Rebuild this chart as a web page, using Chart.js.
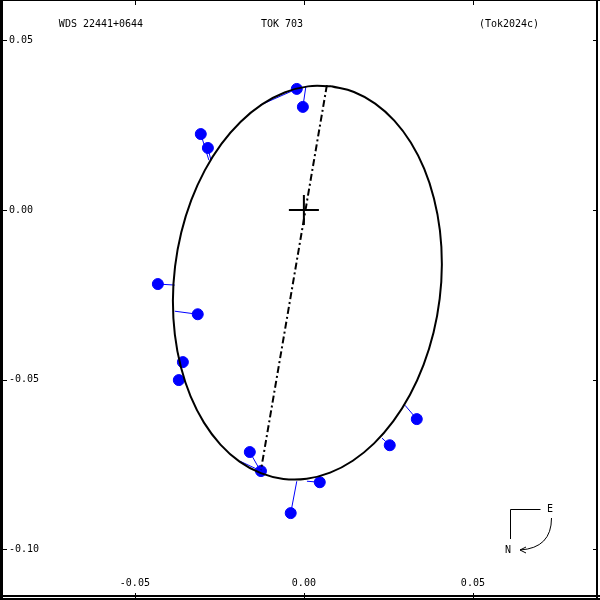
<!DOCTYPE html>
<html><head><meta charset="utf-8">
<script src="https://cdn.jsdelivr.net/npm/chart.js@4/dist/chart.umd.min.js"></script>
<style>html,body{margin:0;padding:0;background:#fff}#wrap{width:600px;height:600px}</style>
</head><body><div id="wrap"><canvas id="c" width="600" height="600"></canvas></div>
<script>
const titleTexts = ['WDS 22441+0644', 'TOK 703', '(Tok2024c)'];
const compassLabels = ['E', 'N'];
const xTickValues = [-0.05, 0, 0.05];
const xTickLabels = ['-0.05', '0.00', '0.05'];
const yTickValues = [0.05, 0, -0.05, -0.10];
const yTickLabels = ['0.05', '0.00', '-0.05', '-0.10'];
const xRange = [-0.0899, 0.0876];
const yRange = [-0.1149, 0.0619];

// apparent orbit
const orbitX = [0.00813,0.01482,0.02109,0.02675,0.03163,0.03558,0.03848,0.04025,0.04082,0.04018,0.03836,0.03540,0.03139,0.02646,0.02077,0.01447,0.00776,0.00085,-0.00606,-0.01274,-0.01902,-0.02468,-0.02956,-0.03351,-0.03641,-0.03817,-0.03875,-0.03811,-0.03628,-0.03332,-0.02932,-0.02439,-0.01869,-0.01240,-0.00569,0.00122];
const orbitY = [0.03650,0.03479,0.03138,0.02636,0.01990,0.01218,0.00344,-0.00605,-0.01601,-0.02613,-0.03610,-0.04563,-0.05443,-0.06221,-0.06875,-0.07386,-0.07737,-0.07918,-0.07923,-0.07753,-0.07412,-0.06910,-0.06263,-0.05491,-0.04618,-0.03668,-0.02672,-0.01660,-0.00663,0.00290,0.01169,0.01948,0.02602,0.03113,0.03464,0.03645];

// observations and their predicted positions on the orbit
const obsX = [-0.0021,-0.0003,-0.0305,-0.0284,-0.0432,-0.0314,-0.0358,-0.0370,-0.0160,-0.0127,-0.0039,0.0047,0.0254,0.0334];
const obsY = [0.0357,0.0304,0.0224,0.0183,-0.0218,-0.0307,-0.0448,-0.0501,-0.0713,-0.0769,-0.0893,-0.0802,-0.0693,-0.0616];
const predX = [-0.0130,0.0006,-0.0281,-0.0275,-0.0382,-0.0382,-0.0364,-0.0358,-0.0130,-0.0189,-0.0021,0.0009,0.0231,0.0299];
const predY = [0.0309,0.0365,0.0147,0.0147,-0.0221,-0.0298,-0.0442,-0.0501,-0.0766,-0.0740,-0.0799,-0.0799,-0.0672,-0.0575];

// line of nodes and primary position
const nodeX = [0.0068, -0.0127];
const nodeY = [0.0368, -0.0766];
const primaryX = [0];
const primaryY = [0];

const pts = (xs, ys) => xs.map((x, i) => ({x: x, y: ys[i]}));
const orbitPts = pts(orbitX, orbitY);
orbitPts.push(orbitPts[0]);

const datasets = [];
datasets.push({data: orbitPts, showLine: true, borderColor: '#000', borderWidth: 2, tension: 0.4, pointRadius: 0, fill: false});
datasets.push({data: pts(nodeX, nodeY), showLine: true, borderColor: '#000', borderWidth: 2, borderDash: [7, 3, 2, 3], pointRadius: 0, fill: false});
datasets.push({data: pts(primaryX, primaryY), pointStyle: 'cross', pointRadius: 15, borderColor: '#000', borderWidth: 2, showLine: false});
datasets.push({data: pts(obsX, obsY), pointStyle: 'circle', pointRadius: 5.5, backgroundColor: '#0000ff', borderColor: '#0000ff', borderWidth: 1, showLine: false});
for (let i = 0; i < obsX.length; i++) {
  datasets.push({data: [{x: obsX[i], y: obsY[i]}, {x: predX[i], y: predY[i]}], showLine: true, borderColor: '#0000ff', borderWidth: 1, pointRadius: 0, fill: false});
}

const FONT = '10px "DejaVu Sans Mono"';

const decor = {
  id: 'decor',
  afterDraw(chart) {
    const ctx = chart.ctx;
    const xs = chart.scales.x, ys = chart.scales.y;
    ctx.save();
    ctx.fillStyle = '#000';
    // frame
    ctx.fillRect(0, 0, 3, 600);
    ctx.fillRect(0, 0, 600, 1);
    ctx.fillRect(596, 0, 2, 600);
    ctx.fillRect(0, 595, 600, 2);
    ctx.fillRect(0, 598, 600, 2);
    // tick marks
    xTickValues.forEach(v => {
      const p = Math.round(xs.getPixelForValue(v));
      ctx.fillRect(p, 0, 1, 5);
      ctx.fillRect(p, 593, 1, 7);
    });
    yTickValues.forEach(v => {
      const p = Math.round(ys.getPixelForValue(v));
      ctx.fillRect(3, p, 4, 1);
      ctx.fillRect(593, p, 4, 1);
    });
    // titles
    ctx.font = FONT;
    ctx.textBaseline = 'middle';
    ctx.textAlign = 'center';
    ctx.fillText(titleTexts[0], 101, 24);
    ctx.fillText(titleTexts[1], 282, 24);
    ctx.fillText(titleTexts[2], 509, 24);
    // compass
    ctx.fillText(compassLabels[0], 550, 509);
    ctx.fillText(compassLabels[1], 508, 550);
    ctx.strokeStyle = '#000';
    ctx.lineWidth = 1;
    ctx.beginPath();
    ctx.moveTo(540.5, 509.5); ctx.lineTo(510.5, 509.5); ctx.lineTo(510.5, 539);
    ctx.stroke();
    ctx.beginPath();
    ctx.moveTo(551.5, 518);
    ctx.quadraticCurveTo(551.5, 548, 520, 550);
    ctx.stroke();
    ctx.beginPath();
    ctx.moveTo(526, 547); ctx.lineTo(520, 550); ctx.lineTo(526, 553);
    ctx.stroke();
    ctx.restore();
  }
};

const zeroPad = s => { s.paddingLeft = 0; s.paddingRight = 0; s.paddingTop = 0; s.paddingBottom = 0; };

new Chart(document.getElementById('c'), {
  type: 'scatter',
  data: {datasets: datasets},
  options: {
    responsive: false,
    animation: false,
    layout: {padding: 0, autoPadding: false},
    plugins: {legend: {display: false}, tooltip: {enabled: false}, title: {display: false}},
    scales: {
      x: {
        type: 'linear', position: 'bottom', min: xRange[0], max: xRange[1],
        grid: {display: false}, border: {display: false},
        afterBuildTicks: s => { s.ticks = xTickValues.map(v => ({value: v})); },
        afterFit: s => { s.height = 0; zeroPad(s); },
        ticks: {
          autoSkip: false, maxRotation: 0, minRotation: 0, mirror: true, padding: 11, color: '#000',
          font: {family: 'DejaVu Sans Mono', size: 10},
          callback: v => xTickLabels[xTickValues.indexOf(v)]
        }
      },
      y: {
        type: 'linear', position: 'left', min: yRange[0], max: yRange[1],
        grid: {display: false}, border: {display: false},
        afterBuildTicks: s => { s.ticks = yTickValues.map(v => ({value: v})); },
        afterFit: s => { s.width = 0; zeroPad(s); },
        ticks: {
          autoSkip: false, mirror: true, padding: 9, color: '#000',
          font: {family: 'DejaVu Sans Mono', size: 10},
          callback: v => yTickLabels[yTickValues.indexOf(v)]
        }
      }
    }
  },
  plugins: [decor]
});
</script>
</body></html>
